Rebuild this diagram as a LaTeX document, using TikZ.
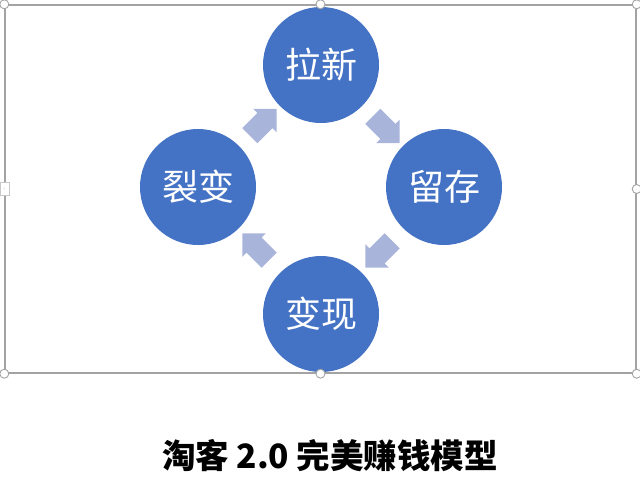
\documentclass[tikz,border=0pt]{standalone}
\usepackage{fontspec}
\setmainfont{Noto Sans CJK SC}
\usepackage{tikz}
\usetikzlibrary{calc,shapes.arrows}
\definecolor{cStage}{HTML}{4472C4}
\definecolor{cTurn}{HTML}{A9B4DB}
\definecolor{cFrame}{HTML}{A3A3A3}
\tikzset{
  stage/.style={circle, fill=cStage, text=white, minimum size=116pt, inner sep=0pt,
                font=\fontsize{36}{40}\selectfont},
  turn/.style={single arrow, fill=cTurn, minimum height=38pt, minimum width=33pt,
               single arrow head extend=6pt, single arrow tip angle=90, inner sep=10.5pt},
  grip/.style={circle, draw=cFrame, fill=white, line width=0.9pt, minimum size=9pt, inner sep=0pt},
}
\begin{document}
\begin{tikzpicture}[x=1pt,y=1pt]
\useasboundingbox (0,0) rectangle (640,-491);
% selection frame
\node[draw=cFrame, line width=1.4pt, minimum width=631pt, minimum height=368pt, inner sep=0pt]
  (frame) at (320.5,-189) {};
% four stages
\node[stage] (xin) at (321,-65) {拉新};
\node[stage] (liu) at (444,-187) {留存};
\node[stage] (bian) at (321,-314) {变现};
\node[stage] (lie) at (198,-187) {裂变};
% block arrows between stages
\node[turn, rotate=-45] (t1) at ($(xin)!0.5!(liu)$) {};
\node[turn, rotate=-135] (t2) at ($(liu)!0.5!(bian)$) {};
\node[turn, rotate=135] (t3) at ($(bian)!0.5!(lie)$) {};
\node[turn, rotate=45] (t4) at ($(lie)!0.5!(xin)$) {};
% handles
\foreach \p in {north west,north,north east,east,south east,south,south west}
  \node[grip] at (frame.\p) {};
\node[draw=cFrame!60, fill=white, line width=0.5pt, minimum width=9pt, minimum height=13pt,
      inner sep=0pt, font=\tiny, text=cFrame] (lgrip) at (frame.west) {‹};
% title
\node[font=\fontsize{33.5}{38}\selectfont\bfseries] (title) at (330,-456) {淘客 2.0 完美赚钱模型};
\end{tikzpicture}
\end{document}
